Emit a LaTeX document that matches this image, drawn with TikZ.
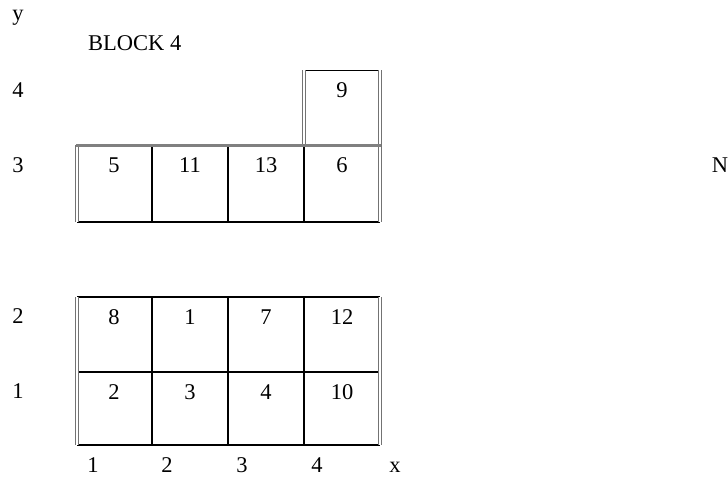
\documentclass[tikz,border=0pt]{standalone}
\usepackage{fontspec}
\setmainfont{Liberation Serif}
\tikzset{
  cellline/.style={line width=1.4pt},
  edgeline/.style={draw=black!55, double=white, double distance=1.2pt, line width=1.1pt},
  topline/.style={draw=black!50, line width=3pt},
  lbl/.style={anchor=base, inner sep=0pt, font=\fontsize{22.5}{27}\selectfont},
}
\begin{document}
\begin{tikzpicture}[x=1pt,y=-1pt]
  \useasboundingbox (0,0) rectangle (728,477);
  % axis labels
  \node[lbl] (ylab) at (18,20) {y};
  \node[lbl,anchor=base west] (title) at (88,50) {BLOCK 4};
  \node[lbl] (row4) at (18,97) {4};
  \node[lbl] (row3) at (18,172) {3};
  \node[lbl] (row2) at (18,323) {2};
  \node[lbl] (row1) at (18,398) {1};
  \node[lbl] (col1) at (93,472) {1};
  \node[lbl] (col2) at (167,472) {2};
  \node[lbl] (col3) at (242,472) {3};
  \node[lbl] (col4) at (317,472) {4};
  \node[lbl] (xlab) at (395,472) {x};
  \node[lbl] (north) at (720,172) {N};
  % UPPER : rows 3 and 4
  \begin{scope}
    \draw[cellline] (77,222) -- (380,222);
    \draw[cellline] (152,145) -- (152,222);
    \draw[cellline] (228,145) -- (228,222);
    \draw[cellline] (304,145) -- (304,222);
    \draw[line width=0.8pt] (304,70) -- (380,70);
    \draw[edgeline] (77,222) -- (77,145);
    \draw[edgeline] (380,222) -- (380,70);
    \draw[edgeline] (304,145) -- (304,70);
    \draw[topline] (76,145) -- (381,145);
    \node[lbl] (c9) at (342,97) {9};
    \node[lbl] (c5) at (114,172) {5};
    \node[lbl] (c11) at (190,172) {11};
    \node[lbl] (c13) at (266,172) {13};
    \node[lbl] (c6) at (342,172) {6};
  \end{scope}
  % LOWER : rows 1 and 2
  \begin{scope}
    \draw[cellline] (77,297) -- (380,297);
    \draw[cellline] (77,372) -- (380,372);
    \draw[cellline] (77,445) -- (380,445);
    \draw[cellline] (152,297) -- (152,445);
    \draw[cellline] (228,297) -- (228,445);
    \draw[cellline] (304,297) -- (304,445);
    \draw[edgeline] (77,297) -- (77,445);
    \draw[edgeline] (380,297) -- (380,445);
    \node[lbl] (c8) at (114,324) {8};
    \node[lbl] (c1) at (190,324) {1};
    \node[lbl] (c7) at (266,324) {7};
    \node[lbl] (c12) at (342,324) {12};
    \node[lbl] (c2) at (114,399) {2};
    \node[lbl] (c3) at (190,399) {3};
    \node[lbl] (c4) at (266,399) {4};
    \node[lbl] (c10) at (342,399) {10};
  \end{scope}
\end{tikzpicture}
\end{document}
